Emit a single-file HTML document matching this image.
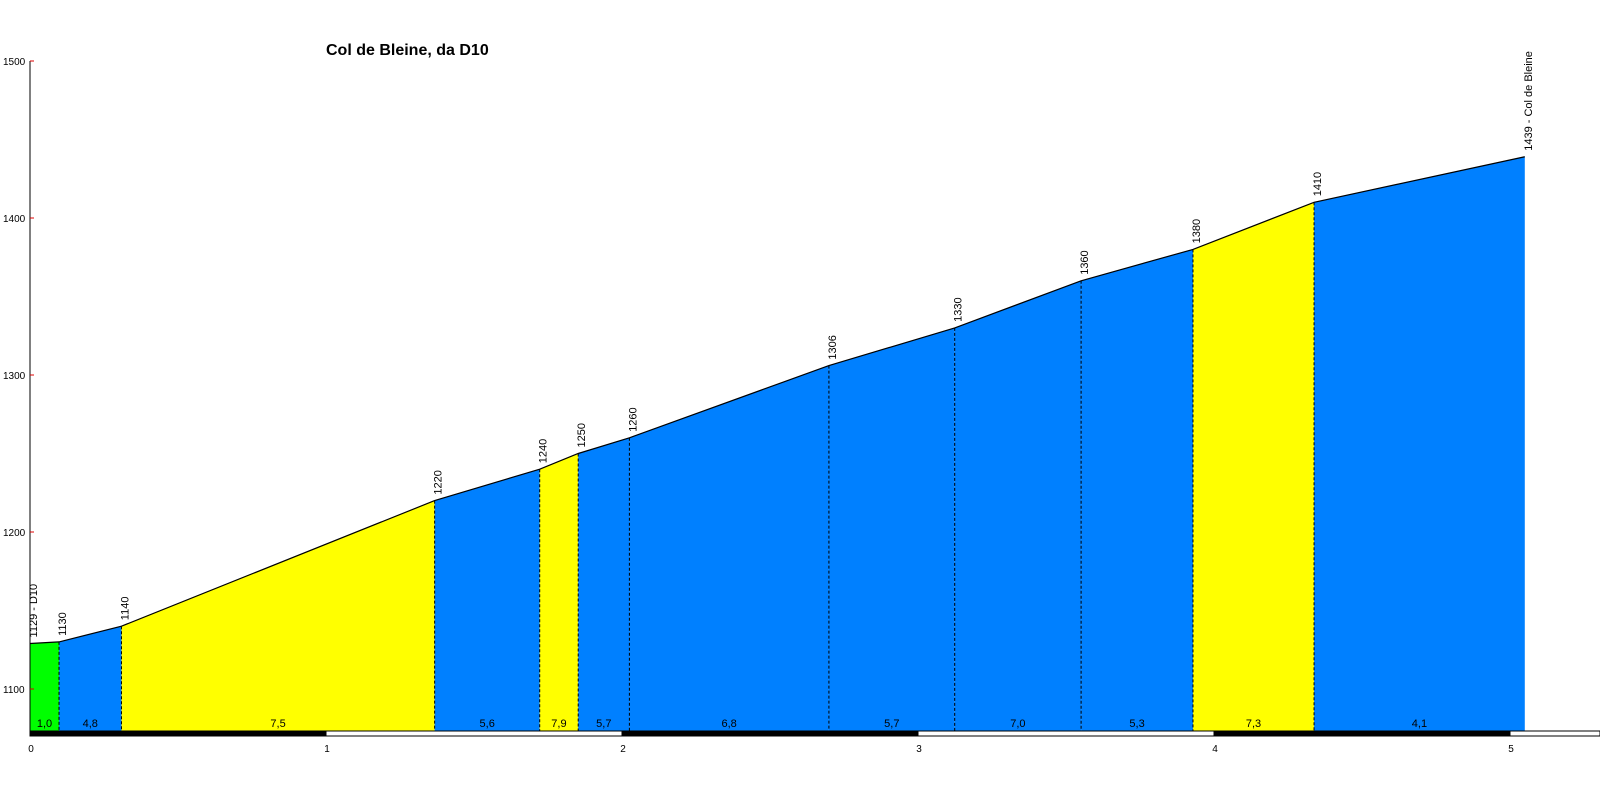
<!DOCTYPE html>
<html><head><meta charset="utf-8"><style>
body{margin:0;background:#fff;}
svg{display:block;font-family:"Liberation Sans",Arial,sans-serif;}
</style></head><body>
<svg id="chart" width="1600" height="800" viewBox="0 0 1600 800" xmlns="http://www.w3.org/2000/svg">
<text x="326" y="55" font-size="16" font-weight="bold">Col de Bleine, da D10</text>
<g id="plot"></g>
</svg>
<script>
const distances=[0,0.098,0.309,1.367,1.722,1.852,2.025,2.699,3.124,3.551,3.929,4.338,5.05];
const elevations=[1129,1130,1140,1220,1240,1250,1260,1306,1330,1360,1380,1410,1439];
const pointNames=["1129 - D10","1130","1140","1220","1240","1250","1260","1306","1330","1360","1380","1410","1439 - Col de Bleine"];
const gradients=["1,0","4,8","7,5","5,6","7,9","5,7","6,8","5,7","7,0","5,3","7,3","4,1"];
const segColors=["#00ff00","#0080ff","#ffff00","#0080ff","#ffff00","#0080ff","#0080ff","#0080ff","#0080ff","#0080ff","#ffff00","#0080ff"];
const yTicks=[1100,1200,1300,1400,1500];
const xTicks=[0,1,2,3,4,5];

const NS="http://www.w3.org/2000/svg";
const g=document.getElementById('plot');
const X=km=>30+296*km;
const Y=v=>689-(v-1100)*1.57;
const BASE=731;
function el(t,a){const e=document.createElementNS(NS,t);for(const k in a)e.setAttribute(k,a[k]);g.appendChild(e);return e;}

for(let i=0;i<gradients.length;i++){
  const x0=X(distances[i]),x1=X(distances[i+1]),y0=Y(elevations[i]),y1=Y(elevations[i+1]);
  const p=el('polygon',{points:`${x0},${BASE} ${x0},${y0} ${x1},${y1} ${x1},${BASE}`,fill:segColors[i]});
  
  
  const t=el('text',{x:(x0+x1)/2,y:BASE-4,'font-size':11,'text-anchor':'middle'});
  t.textContent=gradients[i];
  
  
}
for(let i=1;i<distances.length-1;i++){
  const x=X(distances[i]);
  const l=el('line',{x1:x,x2:x,y1:Y(elevations[i]),y2:BASE,stroke:'#000','stroke-width':1,'stroke-dasharray':'3,2'});
  
  
}
let pts=distances.map((d,i)=>X(d)+','+Y(elevations[i])).join(' ');
const pl=el('polyline',{points:pts,fill:'none',stroke:'#000','stroke-width':1.2});


for(let i=0;i<distances.length;i++){
  const x=X(distances[i])+7,y=Y(elevations[i])-6;
  const t=el('text',{x:x,y:y,'font-size':11,transform:`rotate(-90 ${x} ${y})`});
  t.textContent=pointNames[i];
  
  
}
// y axis
const ya=el('line',{x1:30,x2:30,y1:Y(1500),y2:BASE,stroke:'#000','stroke-width':1});


yTicks.forEach(v=>{
  const tk=el('line',{x1:30,x2:34,y1:Y(v),y2:Y(v),stroke:'#d00','stroke-width':1});
  
  
  const t=el('text',{x:3,y:Y(v)+4,'font-size':10});
  t.textContent=v;
  
  
});
// distance bar
for(let k=0;k<6;k++){
  const x0=X(k),x1=Math.min(X(k+1),1600);
  const r=el('rect',{x:x0,y:BASE,width:x1-x0,height:5,fill:k%2==0?'#000':'#fff',stroke:'#000','stroke-width':1});
  
  
}
xTicks.forEach(v=>{
  const t=el('text',{x:X(v)+1,y:752,'font-size':10,'text-anchor':'middle'});
  t.textContent=v;
  
  
});
</script>
</body></html>
